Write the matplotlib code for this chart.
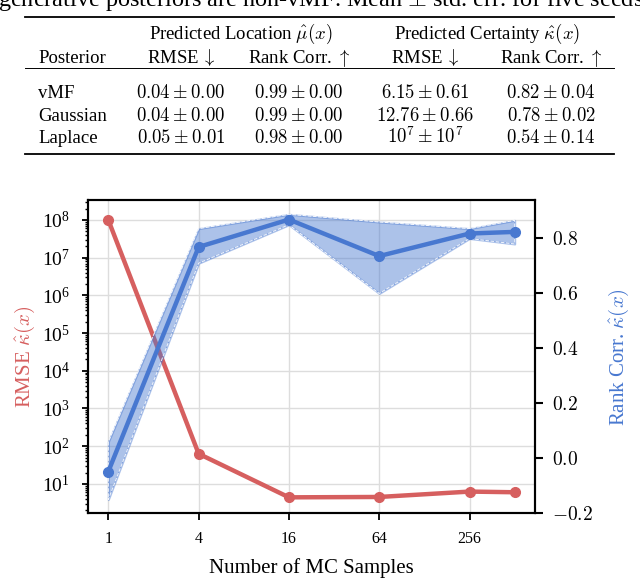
import matplotlib
matplotlib.use("Agg")
import matplotlib.pyplot as plt
from matplotlib.lines import Line2D
from matplotlib.ticker import FixedLocator, NullLocator, FuncFormatter

plt.rcParams['font.family'] = ['Liberation Serif', 'DejaVu Serif']
plt.rcParams['mathtext.fontset'] = 'cm'

# chart data
samples = [1, 4, 16, 64, 256, 512]
rmse_kappa = [1e8, 63, 4.4, 4.5, 6.25, 6.0]
rank_corr = [-0.048, 0.769, 0.869, 0.736, 0.818, 0.824]
rank_lo = [-0.15, 0.71, 0.85, 0.60, 0.80, 0.78]
rank_hi = [0.06, 0.836, 0.888, 0.86, 0.836, 0.866]
x_ticks = [1, 4, 16, 64, 256]

# table content
posteriors = ['vMF', 'Gaussian', 'Laplace']
loc_rmse = [r'$0.04 \pm 0.00$', r'$0.04 \pm 0.00$', r'$0.05 \pm 0.01$']
loc_rank = [r'$0.99 \pm 0.00$', r'$0.99 \pm 0.00$', r'$0.98 \pm 0.00$']
cert_rmse = [r'$6.15 \pm 0.61$', r'$12.76 \pm 0.66$', r'$10^7 \pm 10^7$']
cert_rank = [r'$0.82 \pm 0.04$', r'$0.78 \pm 0.02$', r'$0.54 \pm 0.14$']

RED = '#d65f5f'
BLUE = '#4878d0'
W, H = 640, 579


def fx(x):
    return x / W


def fy(y):
    return 1 - y / H


fig = plt.figure(figsize=(6.4, 5.79), dpi=100)

# cut-off caption line above the table
fig.text(fx(-2), fy(6), r'generative posteriors are non-vMF. Mean $\pm$ std. err. for five seeds.',
         fontsize=17.5, va='baseline', ha='left')

# booktabs-style rules
for y, lw in [(17.3, 1.3), (68.3, 0.7), (154, 1.3)]:
    fig.add_artist(Line2D([fx(25), fx(614)], [fy(y), fy(y)], transform=fig.transFigure,
                          color='black', lw=lw))

fs = 13.5
fig.text(fx(241), fy(39.3), r'Predicted Location $\hat{\mu}(x)$', fontsize=fs, ha='center', va='baseline')
fig.text(fx(487), fy(39.3), r'Predicted Certainty $\hat{\kappa}(x)$', fontsize=fs, ha='center', va='baseline')
fig.text(fx(38), fy(63.3), 'Posterior', fontsize=fs, ha='left', va='baseline')
col_x = [181, 299, 425, 551]
for cx, head in zip(col_x, [r'RMSE$\,\downarrow$', r'Rank Corr. $\uparrow$',
                             r'RMSE$\,\downarrow$', r'Rank Corr. $\uparrow$']):
    fig.text(fx(cx), fy(63.3), head, fontsize=fs, ha='center', va='baseline')

row_y = [98.3, 120.7, 142.7]
for i, ry in enumerate(row_y):
    fig.text(fx(38), fy(ry), posteriors[i], fontsize=fs, ha='left', va='baseline')
    for cx, col in zip(col_x, [loc_rmse, loc_rank, cert_rmse, cert_rank]):
        fig.text(fx(cx), fy(ry), col[i], fontsize=fs, ha='center', va='baseline')

# the chart
ax = fig.add_axes([fx(88), fy(513.3), fx(535) - fx(88), fy(200) - fy(513.3)])
ax2 = ax.twinx()

ax.plot(samples, rmse_kappa, color=RED, lw=3.2, marker='o', markersize=7, zorder=3)
ax.set_yscale('log')
ax.set_xscale('log', base=2)
ax.set_ylim(10 ** 0.22, 10 ** 8.53)
ax.set_xlim(2 ** -0.45, 2 ** 9.45)
ax.xaxis.set_major_locator(FixedLocator(x_ticks))
ax.xaxis.set_minor_locator(NullLocator())
ax.xaxis.set_major_formatter(FuncFormatter(lambda v, p: '%d' % v))
ax.grid(True, color='#dddddd', lw=1)
ax.set_axisbelow(True)

ax2.fill_between(samples, rank_lo, rank_hi, facecolor=BLUE, alpha=0.45,
                 edgecolor=BLUE, lw=1.5)
ax2.fill_between(samples, rank_lo, rank_hi, facecolor='none',
                 edgecolor='white', lw=0.7, linestyle='--', alpha=0.9)
ax2.plot(samples, rank_corr, color=BLUE, lw=3.2, marker='o', markersize=7)
ax2.set_ylim(-0.2, 0.94)
ax2.set_yticks([-0.2, 0.0, 0.2, 0.4, 0.6, 0.8])
ax2.yaxis.set_major_formatter(FuncFormatter(lambda v, p: r'$%.1f$' % v))

for a in (ax, ax2):
    for s in a.spines.values():
        s.set_linewidth(1.5)
        s.set_color('black')

ax.tick_params(axis='x', which='major', direction='out', length=5, width=1.3, labelsize=11.5, pad=8)
ax.tick_params(axis='y', which='major', direction='out', length=4, width=1.3, labelsize=14, pad=9)
ax.tick_params(axis='y', which='minor', direction='out', length=2.5, width=1)
ax2.tick_params(axis='y', direction='out', length=6, width=1.5, labelsize=14, pad=6)

ax.set_xlabel('Number of MC Samples', fontsize=15, labelpad=8)
ax.set_ylabel(r'RMSE $\hat{\kappa}(x)$', fontsize=15, color=RED, labelpad=3)
ax2.set_ylabel(r'Rank Corr. $\hat{\kappa}(x)$', fontsize=15, color=BLUE, labelpad=10)

fig.savefig('out.png', dpi=100)
